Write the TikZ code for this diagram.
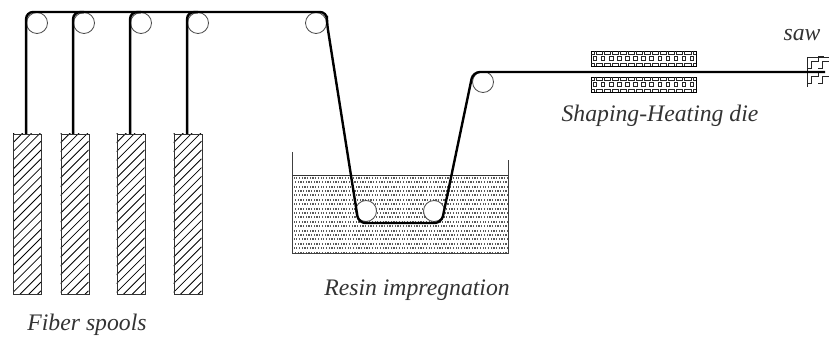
\documentclass[tikz,border=0pt]{standalone}
\usepackage{fontspec}
\setmainfont{Liberation Serif}
\tikzset{
  pulley/.style={circle,draw=black!70,line width=0.8pt,minimum size=21pt,inner sep=0pt,fill=white},
  fiber/.style={line width=2.4pt,rounded corners=7pt},
  wall/.style={line width=0.8pt,draw=black!75},
  lbl/.style={font=\itshape\fontsize{23.7pt}{27pt}\selectfont,inner sep=0pt,text=black!80}
}
\begin{document}
\begin{tikzpicture}[x=1pt,y=-1pt]
\useasboundingbox (0,0) rectangle (829,339);
% liquid
\begin{scope}
\clip (292.5,175) rectangle (508,253);
\foreach \r in {0,...,17}{
  \pgfmathsetmacro{\yy}{176.8+\r*4.4}
  \foreach \c in {0,...,79}{
    \pgfmathsetmacro{\xx}{293.5+\c*2.7+mod(\r,2)*1.35}
    \fill[black!65] (\xx,\yy) rectangle +(1.25,1.9);
  }
}
\end{scope}
\draw[wall] (292.5,152) -- (292.5,253) -- (508,253) -- (508,160);
\draw[line width=0.6pt,black!80] (292.5,175) -- (508,175);
% spools
\foreach \n/\xa in {s1/13,s2/60.5,s3/116.5,s4/173.5}{
  \begin{scope}
  \clip (\xa,134) rectangle +(28,160);
  \foreach \k in {-1,...,22}
    \draw[line width=0.8pt] (\xa,134+\k*8.8) -- +(28,-28);
  \end{scope}
  \node[draw=black!80,line width=0.8pt,minimum width=28pt,minimum height=160pt,inner sep=0pt,anchor=north west] (\n) at (\xa,134) {};
}
% dies
\foreach \n/\ya in {d1/51,d2/77}{
  \node[draw=black,line width=0.8pt,minimum width=105pt,minimum height=15pt,inner sep=0pt,anchor=north west] (\n) at (591,\ya) {};
  \foreach \i in {0,...,12}{
    \pgfmathsetmacro{\xx}{591+\i*8.08}
    \draw[line width=0.8pt,black!85] (\xx,\ya+3) -| (\xx+3,\ya) (\xx+5,\ya) |- (\xx+8.08,\ya+3)
      (\xx,\ya+12) -| (\xx+3,\ya+15) (\xx+5,\ya+15) |- (\xx+8.08,\ya+12)
      (\xx+2.3,\ya+5.3) rectangle (\xx+5.8,\ya+9.7);
  }
}
% saw
\begin{scope}
\clip (807,57) rectangle (829,87);
\foreach \ya in {0,15}
  \foreach \xo in {0,11}{
    \draw[line width=0.8pt,black!85] (807+\xo,68+\ya) -- ++(4.5,0) -- ++(0,-6.3) -- ++(6.5,0) -- ++(0,-5) -- ++(6,0);
  }
\draw[line width=0.8pt,black!85] (807,57) -- (829,57) (807,87) -- (829,87) (807,57) -- (807,87);
\end{scope}
% pulleys
\node[pulley] (p1) at (37,23) {};
\node[pulley] (p2) at (84,23) {};
\node[pulley] (p3) at (141,23) {};
\node[pulley] (p4) at (198,23) {};
\node[pulley] (p5) at (316,23) {};
\node[pulley] (p6) at (366,211) {};
\node[pulley] (p7) at (434,211) {};
\node[pulley] (p8) at (483,82) {};
% fibre
\coordinate (e) at (825,72);
\draw[fiber] (s1.north -| p1.west) -- (p1.west |- 0,12) -- (p5.east |- 0,12) -- (p5.east) -- (358.5,223) -- (441.5,223) -- (473,72) -- (e);
\draw[fiber] (s2.north -| p2.west) -- (p2.west |- 0,12) -- (p2.north);
\draw[fiber] (s3.north -| p3.west) -- (p3.west |- 0,12) -- (p3.north);
\draw[fiber] (s4.north -| p4.west) -- (p4.west |- 0,12) -- (p4.north);
% labels
\node[lbl] (t1) at (87,325) {Fiber spools};
\node[lbl] (t2) at (417,290) {Resin impregnation};
\node[lbl] (t3) at (660,116) {Shaping-Heating die};
\node[lbl] (t4) at (802,35) {saw};
\end{tikzpicture}
\end{document}
